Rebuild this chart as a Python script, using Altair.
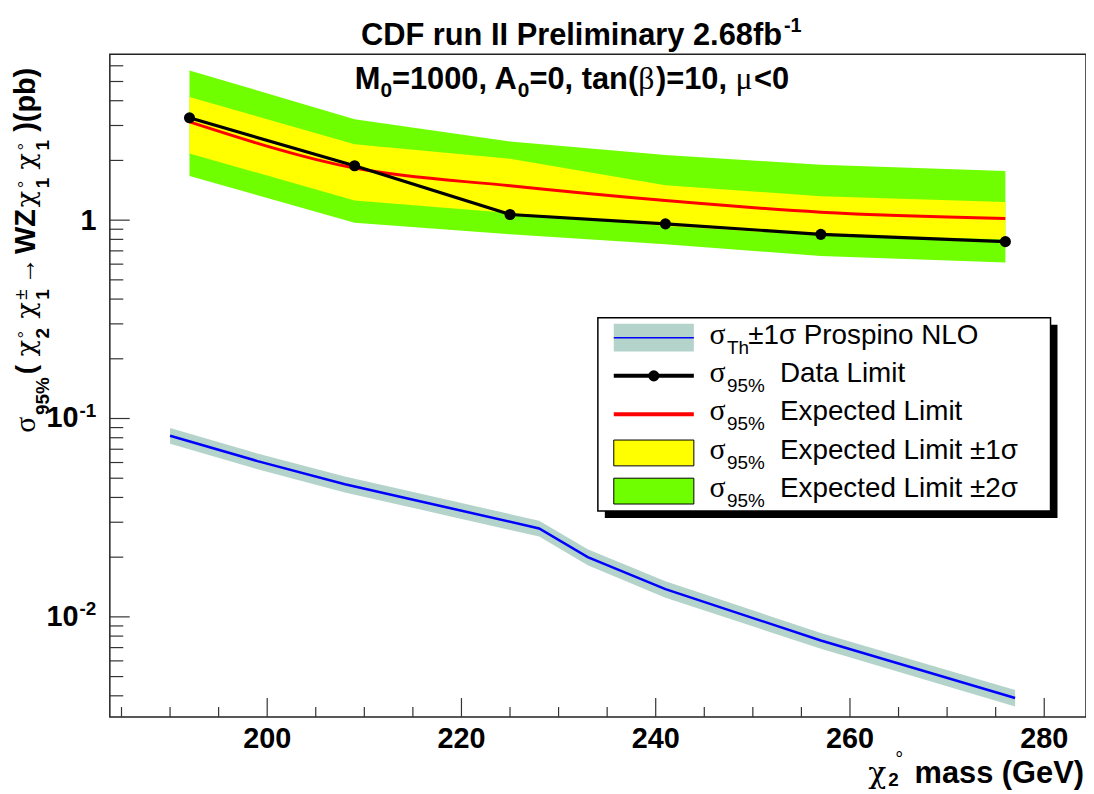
import altair as alt
import pandas as pd

# ---------------- data ----------------
mass = [192, 209, 225, 241, 257, 276]
obs_limit = [3.28, 1.88, 1.068, 0.958, 0.848, 0.779]
exp_limit = [3.13, 1.83, 1.49, 1.255, 1.097, 1.02]
exp_p1 = [4.18, 2.41, 2.04, 1.50, 1.32, 1.235]
exp_m1 = [2.17, 1.255, 1.088, 0.933, 0.838, 0.80]
exp_p2 = [5.68, 3.23, 2.49, 2.13, 1.90, 1.77]
exp_m2 = [1.67, 0.969, 0.848, 0.756, 0.66, 0.611]

th_mass = [190, 199, 208, 219, 228, 233, 241, 257, 277]
th_xsec = [0.0819, 0.061, 0.0466, 0.0352, 0.0279, 0.0200, 0.0138, 0.0076, 0.0039]
th_hi = [0.0895, 0.0667, 0.0510, 0.0385, 0.0305, 0.0219, 0.0151, 0.0083, 0.00428]
th_lo = [0.0745, 0.0555, 0.0424, 0.0320, 0.0254, 0.0182, 0.0125, 0.0069, 0.00353]

x_major = [200, 220, 240, 260, 280]
x_labels = ["200", "220", "240", "260", "280"]
x_minor = [185, 190, 195, 205, 210, 215, 225, 230, 235, 245, 250, 255, 265, 270, 275]
y_major = [1, 0.1, 0.01]
y_mant = ["1", "10", "10"]
y_exp = ["", "-1", "-2"]
y_minor = [0.004, 0.005, 0.006, 0.007, 0.008, 0.009,
           0.02, 0.03, 0.04, 0.05, 0.06, 0.07, 0.08, 0.09,
           0.2, 0.3, 0.4, 0.5, 0.6, 0.7, 0.8, 0.9,
           2, 3, 4, 5, 6]

# ---------------- layout ----------------
W, H = 982.5, 667.0
OX, OY = 110.5, 52.0          # absolute page position of the plot origin
FONT = "Liberation Sans"
GFONT = "Liberation Serif"    # Greek letters (Symbol-like)
CHIFONT = "DejaVu Serif"
GREEN, YELLOW, THBAND = "#70ff00", "#ffff00", "#b4d4cb"

xs = alt.Scale(domain=[183.8, 284.3], nice=False, zero=False)
ys = alt.Scale(type="log", domain=[0.00313, 6.86], nice=False)

lim = pd.DataFrame({"m": mass, "obs": obs_limit, "exp": exp_limit,
                    "p1": exp_p1, "m1": exp_m1, "p2": exp_p2, "m2": exp_m2})
th = pd.DataFrame({"m": th_mass, "xs": th_xsec, "hi": th_hi, "lo": th_lo})
ONE = pd.DataFrame({"k": [0]})

X = lambda f: alt.X(f, scale=xs, axis=None)
Y = lambda f: alt.Y(f, scale=ys, axis=None)

layers = []
layers.append(alt.Chart(lim).mark_area(color=GREEN, opacity=1).encode(x=X("m:Q"), y=Y("m2:Q"), y2="p2:Q"))
layers.append(alt.Chart(lim).mark_area(color=YELLOW, opacity=1).encode(x=X("m:Q"), y=Y("m1:Q"), y2="p1:Q"))
layers.append(alt.Chart(lim).mark_line(color="#ff0000", strokeWidth=3, interpolate="monotone").encode(x=X("m:Q"), y=Y("exp:Q")))
layers.append(alt.Chart(lim).mark_line(color="black", strokeWidth=3.2).encode(x=X("m:Q"), y=Y("obs:Q")))
layers.append(alt.Chart(lim).mark_point(color="black", filled=True, opacity=1, size=125).encode(x=X("m:Q"), y=Y("obs:Q")))
layers.append(alt.Chart(th).mark_area(color=THBAND, opacity=1).encode(x=X("m:Q"), y=Y("lo:Q"), y2="hi:Q"))
layers.append(alt.Chart(th).mark_line(color="#0000ff", strokeWidth=2.5).encode(x=X("m:Q"), y=Y("xs:Q")))

# axis ticks (inside, ROOT style)
TK = "#333333"
layers.append(alt.Chart(pd.DataFrame({"v": x_major})).mark_rule(color=TK, strokeWidth=1.2).encode(
    x=X("v:Q"), y=alt.value(H), y2=alt.value(H - 19)))
layers.append(alt.Chart(pd.DataFrame({"v": x_minor})).mark_rule(color=TK, strokeWidth=1.2).encode(
    x=X("v:Q"), y=alt.value(H), y2=alt.value(H - 10)))
layers.append(alt.Chart(pd.DataFrame({"v": y_major})).mark_rule(color=TK, strokeWidth=1.2).encode(
    y=Y("v:Q"), x=alt.value(0), x2=alt.value(20)))
layers.append(alt.Chart(pd.DataFrame({"v": y_minor})).mark_rule(color=TK, strokeWidth=1.2).encode(
    y=Y("v:Q"), x=alt.value(0), x2=alt.value(13.5)))

# tick labels
layers.append(alt.Chart(pd.DataFrame({"v": x_major, "t": x_labels})).mark_text(
    font=FONT, fontSize=29, fontWeight="bold", baseline="alphabetic", align="center").encode(
    x=X("v:Q"), y=alt.value(750 - OY), text="t:N"))
ylab = pd.DataFrame({"v": y_major, "t": y_mant, "e": y_exp})
layers.append(alt.Chart(ylab[ylab.e == ""]).mark_text(
    font=FONT, fontSize=29, fontWeight="bold", baseline="alphabetic", align="right", dy=10).encode(
    y=Y("v:Q"), x=alt.value(97 - OX), text="t:N"))
layers.append(alt.Chart(ylab[ylab.e != ""]).mark_text(
    font=FONT, fontSize=29, fontWeight="bold", baseline="alphabetic", align="right", dy=9).encode(
    y=Y("v:Q"), x=alt.value(79 - OX), text="t:N"))
layers.append(alt.Chart(ylab[ylab.e != ""]).mark_text(
    font=FONT, fontSize=19, fontWeight="bold", baseline="alphabetic", align="left", dy=-2).encode(
    y=Y("v:Q"), x=alt.value(80 - OX), text="e:N"))

# ---------------- free text helpers ----------------
REG = {' ': 278, '%': 889, '(': 333, ')': 333, '±': 584, '<': 584, '=': 584, ',': 278, '.': 278, '-': 333,
       'A': 667, 'D': 722, 'E': 667, 'L': 556, 'N': 722, 'O': 778, 'P': 667, 'T': 611, 'a': 556, 'c': 500,
       'd': 556, 'e': 556, 'h': 556, 'i': 222, 'l': 222, 'm': 833, 'n': 556, 'o': 556, 'p': 556, 'r': 333,
       's': 500, 't': 278, 'x': 500, 'σ': 600, 'χ': 560, 'β': 560, 'μ': 580, '°': 400, '→': 1000}
BOLD = {' ': 278, '%': 889, '(': 333, ')': 333, '<': 584, '=': 584, ',': 278, '.': 278, '-': 333,
        'A': 722, 'C': 722, 'D': 722, 'F': 611, 'G': 778, 'I': 278, 'M': 833, 'P': 667, 'V': 667, 'W': 944,
        'Z': 611, 'a': 556, 'b': 611, 'e': 556, 'f': 333, 'i': 278, 'l': 278, 'm': 889, 'n': 611, 'p': 611,
        'r': 389, 's': 556, 't': 333, 'u': 611, 'y': 556}
GREEK = set("σβμ")


def wid(s, size, bold):
    tab = BOLD if bold else REG
    return sum(tab.get(c, 556) for c in s) * size / 1000.0


def T(s, x_abs, y_abs, size, bold=False, align="left", angle=0):
    font = CHIFONT if s == "χ" else (GFONT if s in GREEK else FONT)
    return alt.Chart(ONE).mark_text(text=s, font=font, fontSize=size, fontWeight="bold" if bold else "normal",
                                    align=align, baseline="alphabetic", angle=angle, color="black").encode(
        x=alt.value(x_abs - OX), y=alt.value(y_abs - OY))


def run(segs, x_abs, base_abs):
    out = []
    x = x_abs
    for s, size, bold, dy in segs:
        out.append(T(s, x, base_abs + dy, size, bold))
        x += wid(s, size, bold)
    return out


# title
layers.append(T("CDF run II Preliminary 2.68fb", 787, 43, 31, True, align="right"))
layers.append(T("-1", 789, 30, 20, True))
# subtitle
layers += run([("M", 31, True, 0), ("0", 21, True, 8), ("=1000, A", 31, True, 0), ("0", 21, True, 8),
               ("=0, tan(", 31, True, 0), ("β", 32, False, 0), (")=10, ", 31, True, 0), ("μ", 32, False, 0),
               ("<0", 31, True, 0)], 357, 87)

# x-axis title
layers.append(T("mass (GeV)", 1091, 785, 31, True, align="right"))
layers.append(T("χ", 892, 785, 30, False, align="right"))
layers.append(T("2", 894, 789, 19, True))
layers.append(T("°", 901, 768, 20, False))

# y-axis title (rotated, reading upward)
BX, SUBX, SUPX, CIRX = 35, 49, 27, 31
ytitle = [("σ", 30, False, BX, 433), ("95%", 19, True, SUBX, 415), ("(", 28, True, BX, 374),
          ("χ", 27, False, BX, 356), ("2", 19, True, SUBX, 338), ("°", 19, False, CIRX, 338),
          ("χ", 27, False, BX, 318), ("1", 19, True, SUBX, 299), ("±", 19, False, SUPX, 299),
          ("→", 28, False, BX, 284), ("WZ", 29, True, BX, 253),
          ("χ", 27, False, BX, 206), ("1", 19, True, SUBX, 187), ("°", 19, False, CIRX, 187),
          ("χ", 27, False, BX, 168), ("1", 19, True, SUBX, 149), ("°", 19, False, CIRX, 149),
          (")(pb)", 29, True, BX, 130)]
for s, size, bold, xb, ystart in ytitle:
    layers.append(T(s, xb, ystart, size, bold, angle=270))

# ---------------- legend ----------------
def R(x1, x2, y1, y2, fill, stroke=None, sw=0):
    kw = dict(color=fill)
    if stroke:
        kw = dict(fill=fill, stroke=stroke, strokeWidth=sw)
    return alt.Chart(ONE).mark_rect(**kw).encode(
        x=alt.value(x1 - OX), x2=alt.value(x2 - OX), y=alt.value(y1 - OY), y2=alt.value(y2 - OY))


def L(x1, x2, yv, color, sw):
    return alt.Chart(ONE).mark_rule(color=color, strokeWidth=sw).encode(
        x=alt.value(x1 - OX), x2=alt.value(x2 - OX), y=alt.value(yv - OY))


layers.append(R(608.7, 1064.3, 324.3, 518.7, "black"))
layers.append(R(601.7, 1057.3, 317.3, 511.7, "white", "black", 1.5))
rows = [337.3, 375.7, 414.3, 453.3, 491.7]
SX1, SX2 = 617.7, 698.3
layers.append(R(SX1, SX2, rows[0] - 14, rows[0] + 14, THBAND))
layers.append(L(SX1, SX2, rows[0], "#0000ff", 1.5))
layers.append(L(SX1, SX2, rows[1], "black", 4))
layers.append(alt.Chart(ONE).mark_point(color="black", filled=True, opacity=1, size=125).encode(
    x=alt.value((SX1 + SX2) / 2 - OX), y=alt.value(rows[1] - OY)))
layers.append(L(SX1, SX2, rows[2], "#ff0000", 4))
layers.append(R(SX1, SX2, rows[3] - 13, rows[3] + 13, YELLOW, "black", 1))
layers.append(R(SX1, SX2, rows[4] - 13, rows[4] + 13, GREEN, "black", 1))

legend_text = [("Th", "±1σ Prospino NLO"), ("95%", "Data Limit"), ("95%", "Expected Limit"),
               ("95%", "Expected Limit ±1σ"), ("95%", "Expected Limit ±2σ")]
for r, (sub, main) in zip(rows, legend_text):
    layers.append(T("σ", 714, r + 6, 30))
    layers.append(T(sub, 731.7, r + 16, 19))
    layers.append(T(main, 753 if sub == "Th" else 785, r + 6, 28))

chart = alt.layer(*layers).properties(
    width=W, height=H,
    autosize=alt.AutoSizeParams(type="none"),
    padding={"left": OX - 8, "top": OY - 8, "right": 0, "bottom": 784 - (OY - 8) - H},
).configure_view(stroke="#222222", strokeWidth=1.5)

chart.save("out.html", embed_options={"renderer": "svg", "actions": False})
